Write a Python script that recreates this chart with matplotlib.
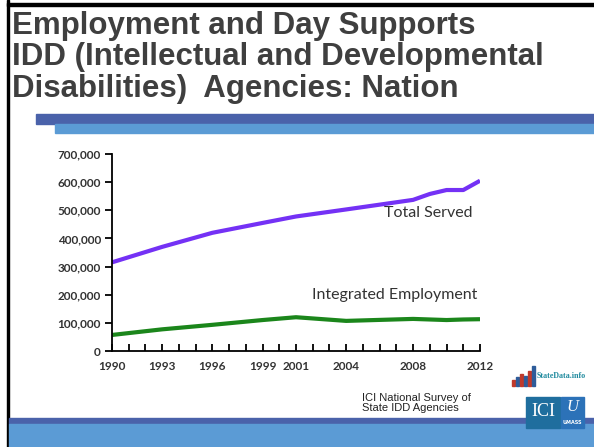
import matplotlib
matplotlib.use("Agg")
import matplotlib.pyplot as plt
from matplotlib.patches import Rectangle

# survey years and values
years = [1990, 1993, 1996, 1999, 2001, 2004, 2008, 2009, 2010, 2011, 2012]
total_served = [315000, 370000, 420000, 455000, 478000, 503000, 537000, 558000, 572000, 572000, 605000]
integrated_emp = [57000, 77000, 93000, 110000, 120000, 107000, 114000, 112000, 110000, 112000, 113000]

year_labels = [1990, 1993, 1996, 1999, 2001, 2004, 2008, 2012]
y_ticks = [0, 100000, 200000, 300000, 400000, 500000, 600000, 700000]

W, H = 594, 447
fig = plt.figure(figsize=(W / 100, H / 100), dpi=100)
fig.patch.set_facecolor("white")

def px(x, y):
    return x / W, 1 - y / H

# slide frame and decoration bars
fig.patches.append(Rectangle(px(7, H), 2 / W, 1, transform=fig.transFigure, color="black"))
fig.patches.append(Rectangle(px(7, 6), 1, 3 / H, transform=fig.transFigure, color="black"))
fig.patches.append(Rectangle(px(36, 124), 1, 10 / H, transform=fig.transFigure, color="#4A62AA"))
fig.patches.append(Rectangle(px(55, 133), 1, 9 / H, transform=fig.transFigure, color="#5B9BD5"))
fig.patches.append(Rectangle(px(9, 424), 1, 6 / H, transform=fig.transFigure, color="#4A62AA"))
fig.patches.append(Rectangle(px(9, H), 1, 23 / H, transform=fig.transFigure, color="#5B9BD5"))

title = "Employment and Day Supports\nIDD (Intellectual and Developmental\nDisabilities)  Agencies: Nation"
fig.text(12 / W, 1 - 11 / H, title, ha="left", va="top", fontsize=22.5, fontweight="bold",
         color="#3F3F3F", family="Liberation Sans", linespacing=1.06)

ax = fig.add_axes([112 / W, 1 - 351 / H, 368 / W, 197 / H])
ax.plot(years, total_served, color="#7431F5", lw=3, solid_capstyle="butt")
ax.plot(years, integrated_emp, color="#1B861B", lw=3, solid_capstyle="butt")

ax.set_xlim(1990, 2012)
ax.set_ylim(0, 700000)
tick_font = dict(family="Lato", fontsize=8.5, fontweight="bold", color="#333333")
ax.set_xticks(range(1990, 2013))
ax.set_xticklabels([str(y) if y in year_labels else "" for y in range(1990, 2013)], **tick_font)
ax.set_yticks(y_ticks)
ax.set_yticklabels([f"{v:,}" for v in y_ticks], **tick_font)

for s in ["top", "right"]:
    ax.spines[s].set_visible(False)
for s in ["left", "bottom"]:
    ax.spines[s].set_linewidth(1.3)
    ax.spines[s].set_color("black")
ax.tick_params(axis="x", direction="in", length=5, width=1.3, pad=7)
ax.tick_params(axis="y", direction="out", length=5, width=1.3, pad=3)

ax.text(2008.9, 490000, "Total Served", ha="center", va="center", fontsize=11.5,
        family="Lato", color="#333333")
ax.text(2006.9, 199000, "Integrated Employment", ha="center", va="center", fontsize=11.5,
        family="Lato", color="#333333")

fig.text(362 / W, 1 - 403 / H, "ICI National Survey of\nState IDD Agencies", ha="left", va="center",
         fontsize=8, family="Liberation Sans", color="#222222", linespacing=1.0)

# StateData.info logo
bars_h = [6, 9, 12, 10, 15, 20]
for i, h in enumerate(bars_h):
    fig.patches.append(Rectangle(px(512 + i * 4, 386), 3 / W, h / H, transform=fig.transFigure,
                                 color="#C0392B" if i % 2 == 0 else "#2E5C9A"))
fig.text(537 / W, 1 - 376 / H, "StateData.info", ha="left", va="center", fontsize=5.8,
         fontweight="bold", color="#1F8A9E", family="Liberation Serif")

# ICI / UMass Boston logo
fig.patches.append(Rectangle(px(526, 428), 34 / W, 31 / H, transform=fig.transFigure, color="#1F6E9E"))
fig.patches.append(Rectangle(px(561, 428), 23 / W, 31 / H, transform=fig.transFigure, color="#2C72B8"))
fig.text(543 / W, 1 - 412 / H, "ICI", ha="center", va="center", fontsize=13, color="white",
         family="Liberation Serif")
fig.text(572 / W, 1 - 407 / H, "U", ha="center", va="center", fontsize=12, color="white",
         family="Liberation Serif", style="italic")
fig.text(572 / W, 1 - 422 / H, "UMASS", ha="center", va="center", fontsize=3.5, color="white",
         fontweight="bold")

fig.savefig("out.png", dpi=100)
